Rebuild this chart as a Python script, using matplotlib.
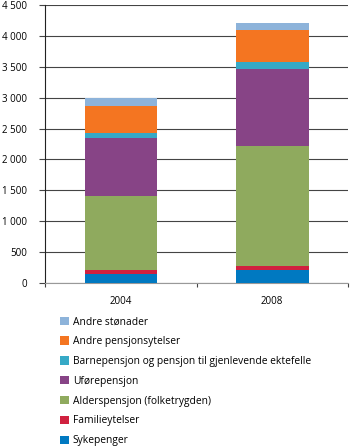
import matplotlib
matplotlib.use("Agg")
import matplotlib.pyplot as plt
from matplotlib.patches import Patch
from matplotlib.ticker import FuncFormatter

years = ["2004", "2008"]
series = [
    "Sykepenger",
    "Familieytelser",
    "Alderspensjon (folketrygden)",
    "Uførepensjon",
    "Barnepensjon og pensjon til gjenlevende ektefelle",
    "Andre pensjonsytelser",
    "Andre stønader",
]
sykepenger = [145, 210]
familieytelser = [60, 70]
alderspensjon = [1200, 1940]
uforepensjon = [950, 1250]
barnepensjon = [70, 105]
andre_pensjon = [440, 525]
andre_stonader = [135, 110]
values = [sykepenger, familieytelser, alderspensjon, uforepensjon,
          barnepensjon, andre_pensjon, andre_stonader]
colors = ["#0079C1", "#D0213F", "#8FAA5E", "#874486",
          "#36A9C6", "#F47521", "#8DB3DA"]

plt.rcParams['font.family'] = ['Open Sans', 'DejaVu Sans']
fig = plt.figure(figsize=(3.5, 4.48), dpi=100)
ax = fig.add_axes([0.129, 0.368, 0.865, 0.621])

x = range(len(years))
bottom = [0, 0]
for vals, col in zip(values, colors):
    ax.bar(x, vals, width=0.48, bottom=bottom, color=col, linewidth=0, zorder=3)
    bottom = [b + v for b, v in zip(bottom, vals)]

ax.set_xlim(-0.5, 1.5)
ax.set_ylim(0, 4500)
ax.set_yticks(range(0, 4501, 500))
ax.yaxis.set_major_formatter(FuncFormatter(lambda v, p: f"{int(v):,}".replace(",", " ")))
ax.yaxis.grid(True, color="#444444", linewidth=0.8, zorder=0)
ax.set_xticks(list(x))
ax.set_xticklabels(years)
ax.set_xticks([-0.5, 0.5, 1.5], minor=True)
ax.tick_params(axis="x", which="major", length=0, labelsize=7, pad=9)
ax.tick_params(axis="x", which="minor", length=3, color="#444444", width=0.8)
ax.tick_params(axis="y", length=4, color="#444444", width=0.8, labelsize=7, pad=9)
for s in ["top", "right"]:
    ax.spines[s].set_visible(False)
ax.spines["left"].set_color("#222222")
ax.spines["left"].set_linewidth(0.8)
ax.spines["bottom"].set_color("#999999")
ax.spines["bottom"].set_linewidth(0.8)

handles = [Patch(facecolor=c, edgecolor="none") for c in colors][::-1]
labels = series[::-1]
fig.legend(handles, labels, loc="upper left", bbox_to_anchor=(0.171, 0.294),
           frameon=False, fontsize=7.4, handlelength=0.87, handleheight=0.87,
           handletextpad=0.4, labelspacing=0.86, borderaxespad=0, borderpad=0)

fig.savefig("out.png", dpi=100)
